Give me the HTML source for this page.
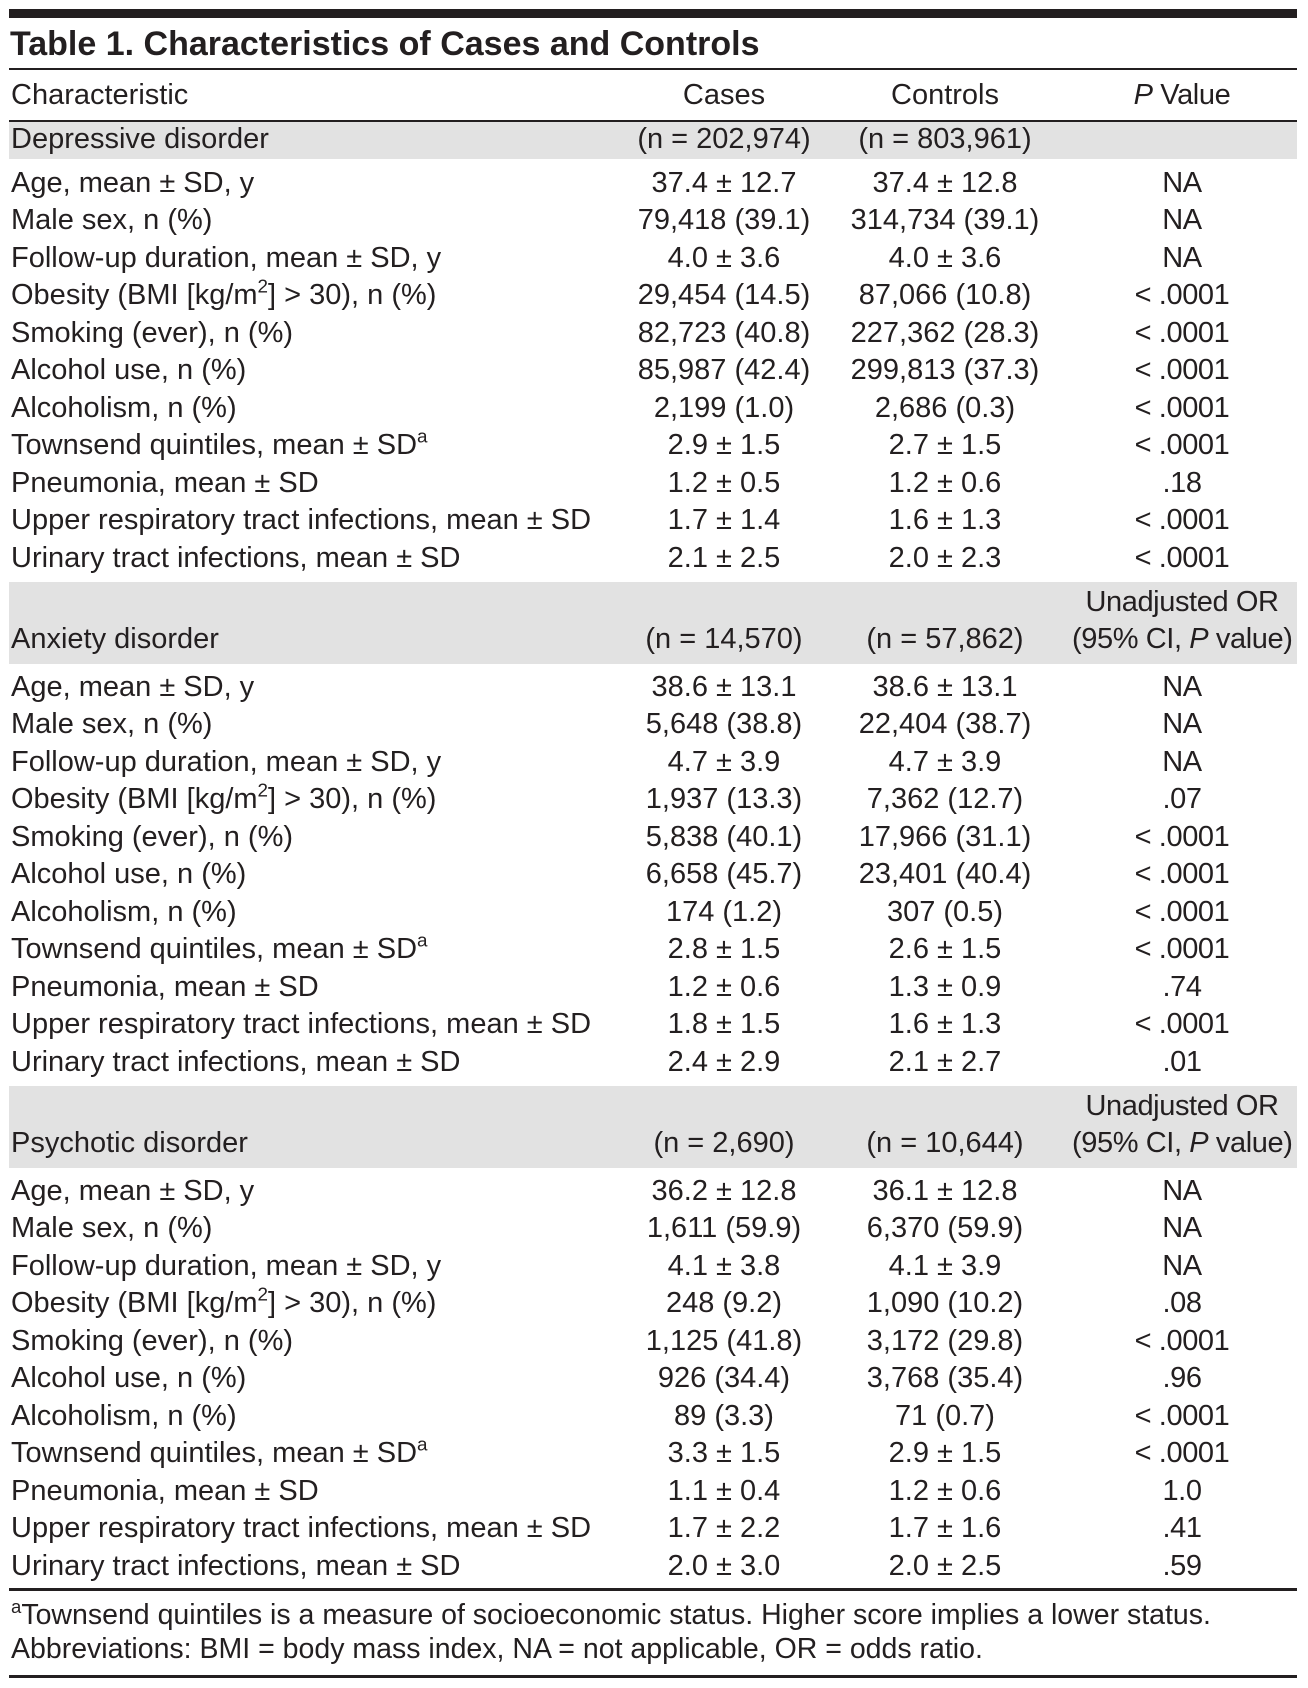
<!DOCTYPE html>
<html><head><meta charset="utf-8"><style>
body{margin:0;background:#fff;}
#p{position:relative;width:1308px;height:1688px;overflow:hidden;font-family:"Liberation Sans Narrow","Liberation Sans",sans-serif;font-size:29px;color:#231f20;}
.r{position:absolute;left:0;width:1308px;height:36px;line-height:36px;white-space:nowrap;}
.r span{position:absolute;top:0;}
.a{left:11px;}
.b{left:624px;width:200px;text-align:center;}
.c{left:845px;width:200px;text-align:center;}
.d{left:1072px;width:220px;text-align:center;letter-spacing:-0.4px;}
.band{position:absolute;left:9px;width:1288px;background:#e2e2e2;}
.rule{position:absolute;left:9px;width:1288px;background:#231f20;}
sup{font-size:65%;line-height:0;vertical-align:0.6em;}
.f{font-size:28.5px;}
</style></head><body><div id="p">
<div class="rule" style="top:9px;height:9px"></div>
<div style="position:absolute;left:10px;top:24px;font-weight:bold;font-size:34px;line-height:40px">Table 1. Characteristics of Cases and Controls</div>
<div class="rule" style="top:68px;height:2px"></div>
<div class="r" style="top:77px"><span class="a">Characteristic</span><span class="b">Cases</span><span class="c">Controls</span><span class="d"><i>P</i> Value</span></div>
<div class="rule" style="top:120px;height:2px"></div>
<div class="band" style="top:122px;height:37px"></div>
<div class="r" style="top:121px"><span class="a">Depressive disorder</span><span class="b">(n = 202,974)</span><span class="c">(n = 803,961)</span></div>

<div class="r" style="top:165px"><span class="a">Age, mean ± SD, y</span><span class="b">37.4 ± 12.7</span><span class="c">37.4 ± 12.8</span><span class="d">NA</span></div>
<div class="r" style="top:202px"><span class="a">Male sex, n (%)</span><span class="b">79,418 (39.1)</span><span class="c">314,734 (39.1)</span><span class="d">NA</span></div>
<div class="r" style="top:240px"><span class="a">Follow-up duration, mean ± SD, y</span><span class="b">4.0 ± 3.6</span><span class="c">4.0 ± 3.6</span><span class="d">NA</span></div>
<div class="r" style="top:277px"><span class="a">Obesity (BMI [kg/m<sup>2</sup>] &gt; 30), n (%)</span><span class="b">29,454 (14.5)</span><span class="c">87,066 (10.8)</span><span class="d">&lt; .0001</span></div>
<div class="r" style="top:315px"><span class="a">Smoking (ever), n (%)</span><span class="b">82,723 (40.8)</span><span class="c">227,362 (28.3)</span><span class="d">&lt; .0001</span></div>
<div class="r" style="top:352px"><span class="a">Alcohol use, n (%)</span><span class="b">85,987 (42.4)</span><span class="c">299,813 (37.3)</span><span class="d">&lt; .0001</span></div>
<div class="r" style="top:390px"><span class="a">Alcoholism, n (%)</span><span class="b">2,199 (1.0)</span><span class="c">2,686 (0.3)</span><span class="d">&lt; .0001</span></div>
<div class="r" style="top:427px"><span class="a">Townsend quintiles, mean ± SD<sup>a</sup></span><span class="b">2.9 ± 1.5</span><span class="c">2.7 ± 1.5</span><span class="d">&lt; .0001</span></div>
<div class="r" style="top:465px"><span class="a">Pneumonia, mean ± SD</span><span class="b">1.2 ± 0.5</span><span class="c">1.2 ± 0.6</span><span class="d">.18</span></div>
<div class="r" style="top:502px"><span class="a">Upper respiratory tract infections, mean ± SD</span><span class="b">1.7 ± 1.4</span><span class="c">1.6 ± 1.3</span><span class="d">&lt; .0001</span></div>
<div class="r" style="top:540px"><span class="a">Urinary tract infections, mean ± SD</span><span class="b">2.1 ± 2.5</span><span class="c">2.0 ± 2.3</span><span class="d">&lt; .0001</span></div>

<div class="band" style="top:582px;height:82px"></div>
<div class="r" style="top:584px"><span class="d">Unadjusted OR</span></div>
<div class="r" style="top:621px"><span class="a">Anxiety disorder</span><span class="b">(n = 14,570)</span><span class="c">(n = 57,862)</span><span class="d">(95% CI, <i>P</i> value)</span></div>
<div class="r" style="top:669px"><span class="a">Age, mean ± SD, y</span><span class="b">38.6 ± 13.1</span><span class="c">38.6 ± 13.1</span><span class="d">NA</span></div>
<div class="r" style="top:706px"><span class="a">Male sex, n (%)</span><span class="b">5,648 (38.8)</span><span class="c">22,404 (38.7)</span><span class="d">NA</span></div>
<div class="r" style="top:744px"><span class="a">Follow-up duration, mean ± SD, y</span><span class="b">4.7 ± 3.9</span><span class="c">4.7 ± 3.9</span><span class="d">NA</span></div>
<div class="r" style="top:781px"><span class="a">Obesity (BMI [kg/m<sup>2</sup>] &gt; 30), n (%)</span><span class="b">1,937 (13.3)</span><span class="c">7,362 (12.7)</span><span class="d">.07</span></div>
<div class="r" style="top:819px"><span class="a">Smoking (ever), n (%)</span><span class="b">5,838 (40.1)</span><span class="c">17,966 (31.1)</span><span class="d">&lt; .0001</span></div>
<div class="r" style="top:856px"><span class="a">Alcohol use, n (%)</span><span class="b">6,658 (45.7)</span><span class="c">23,401 (40.4)</span><span class="d">&lt; .0001</span></div>
<div class="r" style="top:894px"><span class="a">Alcoholism, n (%)</span><span class="b">174 (1.2)</span><span class="c">307 (0.5)</span><span class="d">&lt; .0001</span></div>
<div class="r" style="top:931px"><span class="a">Townsend quintiles, mean ± SD<sup>a</sup></span><span class="b">2.8 ± 1.5</span><span class="c">2.6 ± 1.5</span><span class="d">&lt; .0001</span></div>
<div class="r" style="top:969px"><span class="a">Pneumonia, mean ± SD</span><span class="b">1.2 ± 0.6</span><span class="c">1.3 ± 0.9</span><span class="d">.74</span></div>
<div class="r" style="top:1006px"><span class="a">Upper respiratory tract infections, mean ± SD</span><span class="b">1.8 ± 1.5</span><span class="c">1.6 ± 1.3</span><span class="d">&lt; .0001</span></div>
<div class="r" style="top:1044px"><span class="a">Urinary tract infections, mean ± SD</span><span class="b">2.4 ± 2.9</span><span class="c">2.1 ± 2.7</span><span class="d">.01</span></div>

<div class="band" style="top:1086px;height:82px"></div>
<div class="r" style="top:1088px"><span class="d">Unadjusted OR</span></div>
<div class="r" style="top:1125px"><span class="a">Psychotic disorder</span><span class="b">(n = 2,690)</span><span class="c">(n = 10,644)</span><span class="d">(95% CI, <i>P</i> value)</span></div>
<div class="r" style="top:1173px"><span class="a">Age, mean ± SD, y</span><span class="b">36.2 ± 12.8</span><span class="c">36.1 ± 12.8</span><span class="d">NA</span></div>
<div class="r" style="top:1210px"><span class="a">Male sex, n (%)</span><span class="b">1,611 (59.9)</span><span class="c">6,370 (59.9)</span><span class="d">NA</span></div>
<div class="r" style="top:1248px"><span class="a">Follow-up duration, mean ± SD, y</span><span class="b">4.1 ± 3.8</span><span class="c">4.1 ± 3.9</span><span class="d">NA</span></div>
<div class="r" style="top:1285px"><span class="a">Obesity (BMI [kg/m<sup>2</sup>] &gt; 30), n (%)</span><span class="b">248 (9.2)</span><span class="c">1,090 (10.2)</span><span class="d">.08</span></div>
<div class="r" style="top:1323px"><span class="a">Smoking (ever), n (%)</span><span class="b">1,125 (41.8)</span><span class="c">3,172 (29.8)</span><span class="d">&lt; .0001</span></div>
<div class="r" style="top:1360px"><span class="a">Alcohol use, n (%)</span><span class="b">926 (34.4)</span><span class="c">3,768 (35.4)</span><span class="d">.96</span></div>
<div class="r" style="top:1398px"><span class="a">Alcoholism, n (%)</span><span class="b">89 (3.3)</span><span class="c">71 (0.7)</span><span class="d">&lt; .0001</span></div>
<div class="r" style="top:1435px"><span class="a">Townsend quintiles, mean ± SD<sup>a</sup></span><span class="b">3.3 ± 1.5</span><span class="c">2.9 ± 1.5</span><span class="d">&lt; .0001</span></div>
<div class="r" style="top:1473px"><span class="a">Pneumonia, mean ± SD</span><span class="b">1.1 ± 0.4</span><span class="c">1.2 ± 0.6</span><span class="d">1.0</span></div>
<div class="r" style="top:1510px"><span class="a">Upper respiratory tract infections, mean ± SD</span><span class="b">1.7 ± 2.2</span><span class="c">1.7 ± 1.6</span><span class="d">.41</span></div>
<div class="r" style="top:1548px"><span class="a">Urinary tract infections, mean ± SD</span><span class="b">2.0 ± 3.0</span><span class="c">2.0 ± 2.5</span><span class="d">.59</span></div>

<div class="rule" style="top:1588px;height:3px"></div>
<div class="r f" style="top:1597px"><span class="a"><sup>a</sup>Townsend quintiles is a measure of socioeconomic status. Higher score implies a lower status.</span></div>
<div class="r f" style="top:1631px"><span class="a">Abbreviations: BMI = body mass index, NA = not applicable, OR = odds ratio.</span></div>
<div class="rule" style="top:1675px;height:3px"></div>
</div></body></html>
